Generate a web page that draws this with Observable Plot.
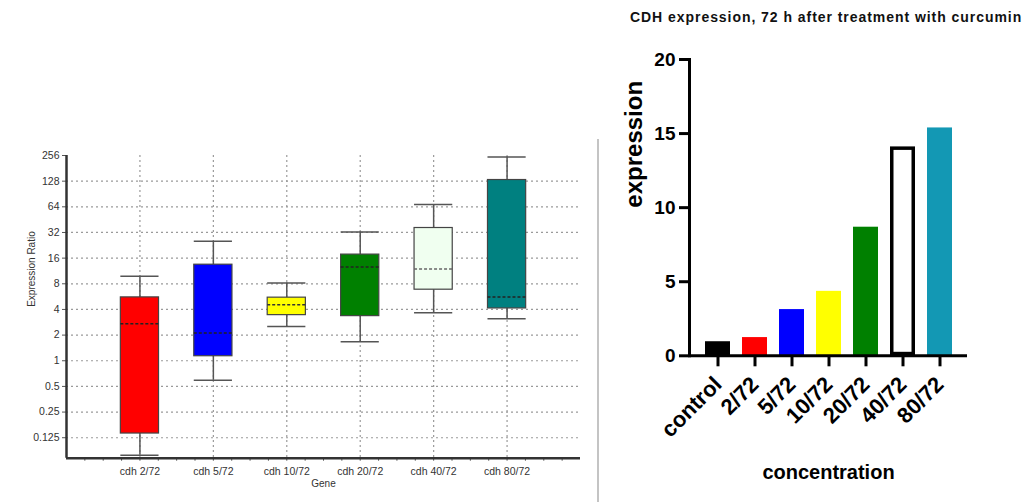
<!DOCTYPE html>
<html><head><meta charset="utf-8">
<script src="https://cdn.jsdelivr.net/npm/d3@7"></script>
<script src="https://cdn.jsdelivr.net/npm/@observablehq/plot@0.6"></script>
<style>
body{margin:0;background:#fff;}
#wrap{position:relative;width:1029px;height:502px;overflow:hidden;background:#fff;font-family:"Liberation Sans",Arial,sans-serif;}
#left{position:absolute;left:0;top:0;}
#right{position:absolute;left:600px;top:0;}
#sep{position:absolute;left:597px;top:139px;width:2px;height:363px;background:#c4c4c4;}
#title{position:absolute;left:630px;top:9px;font:bold 14px "Liberation Sans",Arial,sans-serif;letter-spacing:0.95px;white-space:nowrap;color:#111;}
</style></head><body>
<div id="wrap"><div id="left"></div><div id="sep"></div><div id="title">CDH expression, 72 h after treatment with curcumin</div><div id="right"></div></div>
<script>
// Left panel: box plot (log2 expression ratio)
const genes = ["cdh 2/72","cdh 5/72","cdh 10/72","cdh 20/72","cdh 40/72","cdh 80/72"];
const whiskerLow = [0.078, 0.59, 2.53, 1.67, 3.66, 3.11];
const boxLow = [0.14, 1.13, 3.43, 3.34, 6.82, 4.11];
const median = [2.72, 2.11, 4.55, 12.6, 11.9, 5.59];
const boxHigh = [5.54, 13.4, 5.5, 17.6, 36.1, 132];
const whiskerHigh = [9.8, 25.2, 8.16, 32.4, 68, 246];
const boxColors = ["#ff0000","#0000ff","#ffff00","#008000","#f0fff0","#008080"];
const medianColors = ["#222222","#222222","#333333","#222222","#666666","#222222"];
const ratioTicks = [0.125,0.25,0.5,1,2,4,8,16,32,64,128,256];

// Right panel: bar chart
const concentrations = ["control","2/72","5/72","10/72","20/72","40/72","80/72"];
const expression = [0.95,1.23,3.12,4.35,8.68,14.1,15.38];
const barColors = ["#000000","#ff0000","#0000ff","#ffff00","#008000","#ffffff","#1398b4"];
const expressionTicks = [0,5,10,15,20];

const boxes = genes.map((g,i)=>({pos:i+1, gene:g, lo:whiskerLow[i], q1:boxLow[i], med:median[i], q3:boxHigh[i], hi:whiskerHigh[i], fill:boxColors[i], mc:medianColors[i]}));
const half = 0.26;
const yDom = [0.0719, 256];
const xDom = [0, 7];
const minor = d3.range(1, 28).map(k => k/4);
const gridTicks = ratioTicks.slice(0, -1);
const x1 = d => d.pos - half, x2 = d => d.pos + half;

const left = Plot.plot({
  width: 597, height: 502, marginLeft: 66, marginRight: 17, marginTop: 155, marginBottom: 44.3,
  style: {fontFamily: "Liberation Sans, Arial, sans-serif", fontSize: "10.5px", color: "#333", background: "transparent"},
  x: {domain: xDom},
  y: {type: "log", base: 2, domain: yDom},
  color: {type: "identity"},
  marks: [
    Plot.ruleY(gridTicks, {stroke:"#9a9a9a", strokeDasharray:"2,3", strokeWidth:1.2}),
    Plot.ruleX(boxes, {x:"pos", stroke:"#9a9a9a", strokeDasharray:"2,3", strokeWidth:1.2}),
    Plot.ruleX(boxes, {x:"pos", y1:"lo", y2:"q1", stroke:"#555", strokeWidth:1.5}),
    Plot.ruleX(boxes, {x:"pos", y1:"q3", y2:"hi", stroke:"#555", strokeWidth:1.5}),
    Plot.ruleY(boxes, {y:"hi", x1, x2, stroke:"#555", strokeWidth:1.5}),
    Plot.ruleY(boxes, {y:"lo", x1, x2, stroke:"#555", strokeWidth:1.5}),
    Plot.rect(boxes, {x1, x2, y1:"q1", y2:"q3", fill:"fill", stroke:"#444", strokeWidth:1.2}),
    Plot.ruleY(boxes, {y:"med", x1, x2, stroke:"mc", strokeDasharray:"3,2", strokeWidth:1.5}),
    Plot.axisY({ticks: ratioTicks, tickFormat: d => String(d), tickSize:4, tickPadding:3, label:null, stroke:"#555"}),
    Plot.axisX({ticks: minor, tickFormat: () => "", tickSize:3, label:null, stroke:"#555"}),
    Plot.axisX({ticks: boxes.map(d=>d.pos), tickFormat: d => genes[d-1], tickSize:0, tickPadding:9, label:null}),
    Plot.ruleX(xDom.slice(0,1), {stroke:"#333", strokeWidth:2.5}),
    Plot.ruleY(yDom.slice(0,1), {stroke:"#333", strokeWidth:2.5}),
    Plot.text(["Expression Ratio"], {frameAnchor:"left", dx:-35, rotate:-90, fontSize:10, fill:"#333"}),
    Plot.text(["Gene"], {frameAnchor:"bottom", dy:29, fontSize:10, fill:"#333"})
  ]
});
document.getElementById("left").appendChild(left);

const bars = concentrations.map((c,i)=>({c, v:expression[i], fill:barColors[i]}));
const right = Plot.plot({
  width: 429, height: 502, marginLeft: 89, marginRight: 62, marginTop: 59, marginBottom: 146.7,
  style: {fontFamily: "Liberation Sans, Arial, sans-serif", fontSize: "19px", fontWeight: "bold", color: "#000", background: "transparent"},
  x: {type: "band", domain: concentrations, paddingInner: 0.33, paddingOuter: 0.373},
  y: {domain: [0, 20]},
  color: {type: "identity"},
  marks: [
    Plot.barY(bars.filter(d => d.c !== "40/72"), {x:"c", y:"v", fill:"fill"}),
    Plot.barY(bars.filter(d => d.c === "40/72"), {x:"c", y:"v", fill:"fill", stroke:"#000", strokeWidth:3.5, inset:1.75}),
    Plot.frame({anchor: "left", stroke:"#000", strokeWidth:3}),
    Plot.ruleY([0], {stroke:"#000", strokeWidth:3}),
    Plot.axisY({ticks: expressionTicks, tickSize:10, tickPadding:4, strokeWidth:3, label:null}),
    Plot.axisX({tickSize:11, tickPadding:14, tickRotate:-45, strokeWidth:3, fontSize:22, label:null}),
    Plot.text(["expression"], {frameAnchor:"left", dx:-55, rotate:-90, fontSize:24, fontWeight:"bold"}),
    Plot.text(["concentration"], {frameAnchor:"bottom", dy:123, fontSize:20, fontWeight:"bold"})
  ]
});
document.getElementById("right").appendChild(right);
</script>
</body></html>
